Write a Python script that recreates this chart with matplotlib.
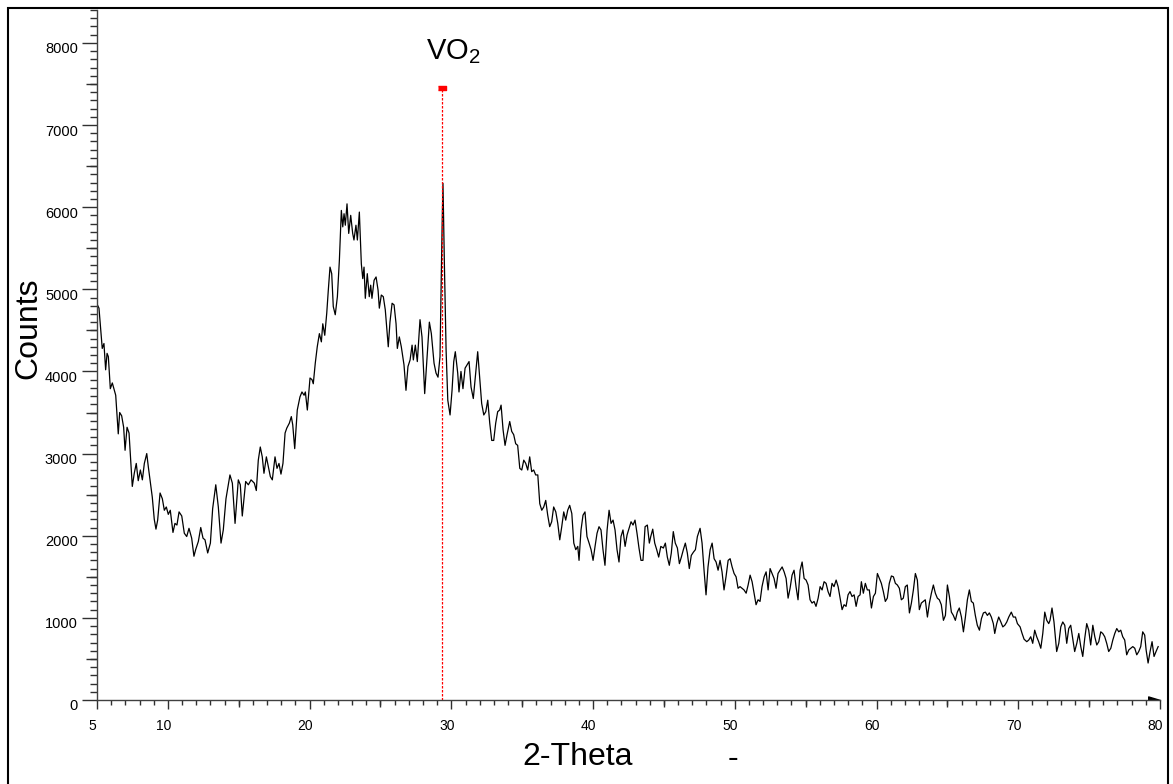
import matplotlib.pyplot as plt
import matplotlib.transforms as mtrans
from matplotlib.ticker import MultipleLocator
from matplotlib.patches import Rectangle
import numpy as np

plt.rcParams['font.family'] = ['Liberation Sans', 'DejaVu Sans']
plt.rcParams['mathtext.fontset'] = 'custom'
plt.rcParams['mathtext.rm'] = 'Liberation Sans'
plt.rcParams['mathtext.it'] = 'Liberation Sans:italic'

# (2-theta, counts), split by region
scan_low = [
    (5.00, 4820), (5.14, 4770), (5.37, 4280), (5.49, 4340), (5.61, 4020), (5.71, 4220),
    (5.80, 4180), (5.94, 3790), (6.08, 3860), (6.32, 3710), (6.50, 3240), (6.60, 3500),
    (6.74, 3460), (6.88, 3320), (6.98, 3040), (7.12, 3320), (7.26, 3250), (7.49, 2600),
    (7.63, 2760), (7.77, 2880), (7.91, 2670), (8.06, 2800), (8.20, 2680), (8.34, 2880),
    (8.51, 3000), (8.62, 2840), (8.90, 2470), (9.04, 2200), (9.16, 2080), (9.28, 2190),
    (9.45, 2520), (9.61, 2450), (9.75, 2310), (9.89, 2350), (10.03, 2260), (10.17, 2310),
    (10.36, 2040), (10.50, 2150), (10.64, 2130), (10.79, 2290), (10.98, 2240), (11.16, 2030),
    (11.33, 1990), (11.49, 2090), (11.68, 1970), (11.84, 1750), (11.96, 1830), (12.15, 1930),
    (12.32, 2100), (12.48, 1970), (12.62, 1950), (12.81, 1790), (13.00, 1910), (13.16, 2330),
    (13.38, 2620), (13.56, 2350), (13.75, 1910), (13.91, 2070), (14.10, 2450), (14.38, 2740),
    (14.55, 2640), (14.74, 2150), (14.97, 2680), (15.11, 2620), (15.25, 2240), (15.49, 2660),
    (15.68, 2620), (15.87, 2680), (16.10, 2640), (16.24, 2550), (16.38, 2920), (16.52, 3080),
    (16.66, 2960), (16.78, 2760), (16.95, 2960), (17.09, 2840), (17.23, 2720), (17.37, 2680),
    (17.56, 2960), (17.70, 2820), (17.84, 2880), (17.98, 2750), (18.12, 2880), (18.27, 3250),
]

scan_hump = [
    (18.39, 3310), (18.57, 3370), (18.71, 3450), (18.81, 3350), (18.95, 3060), (19.13, 3530),
    (19.32, 3690), (19.46, 3750), (19.61, 3710), (19.70, 3750), (19.84, 3530), (20.03, 3920),
    (20.17, 3900), (20.26, 3850), (20.40, 4100), (20.54, 4300), (20.69, 4460), (20.83, 4360),
    (20.93, 4580), (21.07, 4440), (21.21, 4710), (21.32, 4990), (21.44, 5270), (21.56, 5190),
    (21.67, 4790), (21.81, 4690), (21.96, 4910), (22.10, 5350), (22.24, 5960), (22.34, 5760),
    (22.43, 5920), (22.52, 5780), (22.64, 6040), (22.76, 5680), (22.90, 5900), (23.04, 5680),
    (23.13, 5600), (23.27, 5780), (23.37, 5600), (23.51, 5940), (23.65, 5310), (23.75, 5130),
    (23.84, 5270), (23.93, 4890), (24.07, 5190), (24.21, 4910), (24.31, 5050), (24.40, 4890),
    (24.55, 5110), (24.69, 5150), (24.83, 4990), (24.92, 4770), (25.06, 4930), (25.20, 4910),
    (25.34, 4750), (25.44, 4540), (25.55, 4300), (25.67, 4600), (25.82, 4830), (25.96, 4810),
    (26.10, 4580), (26.19, 4280), (26.33, 4420), (26.47, 4300), (26.66, 4080), (26.80, 3770),
    (26.94, 4060), (27.09, 4140), (27.23, 4320), (27.32, 4140), (27.46, 4320), (27.60, 4120),
    (27.79, 4630), (27.93, 4420), (28.12, 3730), (28.26, 4100), (28.45, 4600), (28.59, 4460),
    (28.78, 4100), (28.92, 3980), (29.06, 3930), (29.20, 4180), (29.34, 5680), (29.41, 6290),
    (29.51, 5310), (29.63, 4260), (29.75, 3650), (29.91, 3470), (30.05, 3770), (30.17, 4120),
    (30.28, 4240),
]

scan_mid = [
    (30.45, 3980), (30.54, 3750), (30.68, 4000), (30.82, 3790), (30.97, 4040), (31.11, 4080),
    (31.25, 4120), (31.39, 3810), (31.55, 3670), (31.72, 3980), (31.86, 4240), (32.00, 3930),
    (32.14, 3610), (32.29, 3470), (32.43, 3510), (32.57, 3650), (32.71, 3370), (32.85, 3160),
    (32.99, 3160), (33.13, 3370), (33.27, 3510), (33.41, 3530), (33.51, 3590), (33.65, 3290),
    (33.79, 3100), (33.93, 3230), (34.12, 3390), (34.26, 3270), (34.40, 3230), (34.54, 3120),
    (34.68, 3100), (34.83, 2820), (34.97, 2800), (35.11, 2920), (35.25, 2880), (35.39, 2800),
    (35.53, 2960), (35.67, 2780), (35.81, 2800), (35.95, 2740), (36.10, 2740), (36.24, 2390),
    (36.38, 2310), (36.52, 2350), (36.66, 2430), (36.80, 2250), (36.94, 2110), (37.08, 2170),
    (37.22, 2350), (37.37, 2290), (37.51, 2150), (37.65, 1950), (37.79, 2110), (37.93, 2290),
    (38.07, 2190), (38.21, 2310), (38.35, 2370), (38.50, 2270), (38.64, 1910), (38.78, 1830),
    (38.92, 1870), (39.01, 1700), (39.15, 2070), (39.29, 2250), (39.43, 2290), (39.57, 1990),
    (39.72, 1910), (39.86, 1830), (40.00, 1700), (40.14, 1870), (40.28, 2030), (40.42, 2110),
    (40.56, 2070), (40.70, 1830), (40.84, 1640), (40.99, 2070), (41.13, 2310), (41.27, 2150),
    (41.41, 2190), (41.55, 2070), (41.69, 1830), (41.83, 1680), (41.97, 1990), (42.11, 2070),
    (42.26, 1870), (42.40, 2010), (42.54, 2090), (42.68, 2170), (42.82, 2130), (42.96, 2190),
    (43.10, 2030), (43.24, 1850), (43.38, 1700), (43.52, 1700), (43.67, 2110),
]

scan_tail_a = [
    (43.83, 2130), (43.97, 1910), (44.07, 1990), (44.21, 2080), (44.35, 1910), (44.49, 1830),
    (44.63, 1740), (44.78, 1870), (44.96, 1850), (45.10, 1910), (45.24, 1740), (45.38, 1640),
    (45.52, 1790), (45.66, 2050), (45.80, 1910), (45.95, 1850), (46.09, 1660), (46.23, 1740),
    (46.37, 1830), (46.51, 1910), (46.65, 1790), (46.79, 1600), (46.93, 1760), (47.08, 1800),
    (47.22, 1830), (47.36, 1990), (47.55, 2090), (47.69, 1910), (47.83, 1580), (47.97, 1280),
    (48.11, 1620), (48.26, 1830), (48.40, 1910), (48.54, 1720), (48.68, 1680), (48.82, 1580),
    (48.96, 1700), (49.10, 1560), (49.24, 1340), (49.38, 1500), (49.53, 1700), (49.67, 1720),
    (49.81, 1620), (49.95, 1540), (50.09, 1500), (50.23, 1360), (50.37, 1380), (50.51, 1360),
    (50.65, 1340), (50.80, 1300), (50.94, 1400), (51.08, 1520), (51.22, 1440), (51.36, 1300),
    (51.50, 1160), (51.64, 1220), (51.78, 1200), (51.92, 1380), (52.07, 1500), (52.21, 1560),
    (52.35, 1340), (52.49, 1600), (52.63, 1540), (52.77, 1480), (52.91, 1360), (53.05, 1540),
    (53.19, 1580), (53.34, 1620), (53.48, 1560), (53.62, 1480), (53.76, 1240), (53.90, 1360),
    (54.04, 1520), (54.18, 1580), (54.32, 1380), (54.46, 1220), (54.61, 1580), (54.75, 1680),
    (54.89, 1480), (55.03, 1460), (55.17, 1400), (55.31, 1220), (55.45, 1180), (55.59, 1200),
    (55.73, 1140), (55.88, 1240), (56.02, 1380),
]

scan_tail_b = [
    (56.16, 1340), (56.30, 1440), (56.44, 1420), (56.58, 1320), (56.72, 1260), (56.86, 1420),
    (57.00, 1380), (57.15, 1460), (57.29, 1380), (57.43, 1240), (57.57, 1100), (57.71, 1160),
    (57.85, 1140), (57.99, 1280), (58.13, 1320), (58.27, 1260), (58.42, 1280), (58.56, 1140),
    (58.70, 1260), (58.84, 1280), (58.93, 1440), (59.07, 1300), (59.21, 1420), (59.35, 1340),
    (59.49, 1340), (59.64, 1120), (59.78, 1260), (59.92, 1300), (60.06, 1540), (60.20, 1480),
    (60.34, 1420), (60.48, 1320), (60.62, 1200), (60.76, 1240), (60.90, 1420), (61.05, 1510),
    (61.19, 1500), (61.33, 1420), (61.47, 1400), (61.61, 1360), (61.75, 1220), (61.89, 1240),
    (62.03, 1380), (62.17, 1400), (62.32, 1060), (62.46, 1180), (62.60, 1340), (62.74, 1540),
    (62.88, 1460), (63.02, 1100), (63.16, 1180), (63.30, 1200), (63.44, 1220), (63.59, 1010),
    (63.73, 1180), (63.87, 1300), (64.01, 1400), (64.15, 1300), (64.29, 1240), (64.43, 1220),
    (64.57, 1160), (64.72, 970), (64.86, 1030), (65.00, 1400), (65.14, 1260), (65.28, 1070),
    (65.42, 1030), (65.56, 970), (65.70, 1070), (65.84, 1120), (65.99, 1010), (66.13, 830),
    (66.27, 1010), (66.41, 1220), (66.55, 1340), (66.69, 1200), (66.83, 1180), (66.97, 1030),
    (67.11, 910), (67.26, 850), (67.40, 990), (67.54, 1060), (67.68, 1070), (67.82, 1030),
    (67.96, 1060), (68.10, 1010), (68.24, 930), (68.34, 810), (68.48, 930), (68.62, 1010),
]

scan_tail_c = [
    (68.77, 950), (68.91, 890), (69.05, 910), (69.19, 950), (69.33, 1010), (69.51, 1070),
    (69.65, 1010), (69.80, 1010), (69.94, 930), (70.13, 890), (70.27, 810), (70.41, 740),
    (70.60, 710), (70.74, 730), (70.88, 770), (71.02, 690), (71.16, 850), (71.30, 770),
    (71.44, 710), (71.59, 630), (71.73, 810), (71.87, 1070), (72.01, 970), (72.15, 930),
    (72.24, 970), (72.38, 1120), (72.52, 950), (72.71, 590), (72.86, 690), (73.00, 890),
    (73.14, 950), (73.28, 910), (73.42, 690), (73.56, 870), (73.70, 910), (73.84, 750),
    (73.98, 590), (74.13, 690), (74.27, 810), (74.41, 650), (74.55, 530), (74.69, 750),
    (74.83, 930), (74.97, 850), (75.11, 670), (75.26, 910), (75.40, 770), (75.54, 670),
    (75.68, 710), (75.82, 830), (75.96, 810), (76.10, 770), (76.24, 690), (76.38, 590),
    (76.53, 630), (76.67, 730), (76.81, 810), (76.95, 870), (77.09, 830), (77.23, 850),
    (77.37, 770), (77.51, 730), (77.65, 550), (77.80, 610), (77.94, 630), (78.08, 650),
    (78.22, 630), (78.36, 550), (78.50, 590), (78.64, 650), (78.78, 830), (78.92, 790),
    (79.02, 610), (79.16, 450), (79.30, 590), (79.44, 710), (79.58, 530), (79.72, 590),
    (79.87, 650),
]

# reference phase marker
vo2_pos = 29.32
vo2_height = 7450
vo2_label = 'VO$_2$'

x_ticks = [5, 10, 20, 30, 40, 50, 60, 70, 80]
x_mid_ticks = [15, 25, 35, 45, 55, 65, 75]
y_ticks = [0, 1000, 2000, 3000, 4000, 5000, 6000, 7000, 8000]
y_mid_ticks = [500, 1500, 2500, 3500, 4500, 5500, 6500, 7500]

scan = scan_low + scan_hump + scan_mid + scan_tail_a + scan_tail_b + scan_tail_c
two_theta = np.array([p[0] for p in scan])
counts = np.array([p[1] for p in scan])

W, H = 1173, 784
fig = plt.figure(figsize=(W / 100, H / 100), dpi=100)
ax = fig.add_axes([97 / W, 84 / H, 1063 / W, 690 / H])

ax.plot(two_theta, counts, color='black', lw=0.9)

ax.vlines(vo2_pos, 0, vo2_height, colors='red', linestyles=(0, (2, 1.2)), lw=0.9)
ax.plot([vo2_pos], [vo2_height], linestyle='none', color='red',
        marker=[(-1, -0.55), (1, -0.55), (1, 0.55), (-1, 0.55)], ms=5.2)
ax.annotate(vo2_label, xy=(vo2_pos, vo2_height), xytext=(-16, 29),
            textcoords='offset pixels', ha='left', va='baseline', fontsize=21)

ax.set_xlim(5, 80)
ax.set_ylim(0, 8400)

for s in ['top', 'right']:
    ax.spines[s].set_visible(False)
for s in ['left', 'bottom']:
    ax.spines[s].set_color('#404040')
    ax.spines[s].set_linewidth(1.0)

ax.set_xticks(x_ticks)
ax.set_yticks(y_ticks)
ax.xaxis.set_minor_locator(MultipleLocator(1))
ax.yaxis.set_minor_locator(MultipleLocator(100))
ax.tick_params(axis='x', which='major', length=6.5, width=1, color='#303030',
               labelsize=10, pad=7)
ax.tick_params(axis='x', which='minor', length=3.6, width=1, color='#303030')
ax.tick_params(axis='y', which='major', length=10.8, width=1, color='#303030',
               labelsize=10.5, pad=3)
ax.tick_params(axis='y', which='minor', length=5, width=1, color='#303030')

# medium ticks at the half steps
secx = ax.secondary_xaxis('bottom')
secx.set_xticks(x_mid_ticks)
secx.tick_params(length=5, width=1, color='#303030', labelbottom=False)
secx.spines['bottom'].set_visible(False)
secy = ax.secondary_yaxis('left')
secy.set_yticks(y_mid_ticks)
secy.tick_params(length=8, width=1, color='#303030', labelleft=False)
secy.spines['left'].set_visible(False)

off_y = mtrans.ScaledTranslation(0, -0.05, fig.dpi_scale_trans)
for lab in ax.get_yticklabels():
    lab.set_transform(lab.get_transform() + off_y)
off_x = mtrans.ScaledTranslation(-0.045, 0, fig.dpi_scale_trans)
for lab in ax.get_xticklabels():
    lab.set_transform(lab.get_transform() + off_x)

# half arrow head at the end of the x axis
ax.plot([1], [0], transform=ax.transAxes, clip_on=False, color='black',
        marker=[(-1, 0), (-1, 0.3), (0, 0)], ms=17, linestyle='none')

fig.text(28 / W, 1 - 328 / H, 'Counts', rotation=90, ha='center', va='center', fontsize=23)
fig.text(578 / W, 1 - 757 / H, '2-Theta', ha='center', va='center', fontsize=23)
fig.text(733 / W, 1 - 759 / H, '-', ha='center', va='center', fontsize=23)

fig.add_artist(Rectangle((8 / W, -0.05), 1160 / W, 1 - 8 / H + 0.05,
                         transform=fig.transFigure, fill=False, lw=1.5,
                         edgecolor='black'))

plt.savefig('out.png', dpi=100)
